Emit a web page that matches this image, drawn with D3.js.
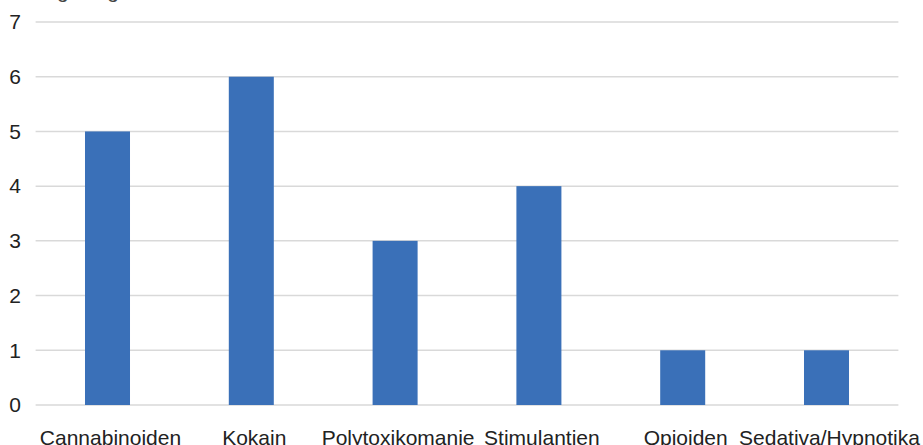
<!DOCTYPE html>
<html>
<head>
<meta charset="utf-8">
<script src="https://cdn.jsdelivr.net/npm/d3@7"></script>
<style>
  html, body { margin: 0; padding: 0; background: #fff; overflow: hidden; }
  svg { display: block; font-family: "Liberation Sans", Arial, sans-serif; }
</style>
</head>
<body>
<svg id="chart" width="923" height="445"></svg>
<script>
const categories = ["Cannabinoiden", "Kokain", "Polytoxikomanie", "Stimulantien", "Opioiden", "Sedativa/Hypnotika"];
const counts = [5, 6, 3, 4, 1, 1];
const yTicks = [0, 1, 2, 3, 4, 5, 6, 7];
const yTitle = "Häufigkeit gesamt";

const svg = d3.select("#chart");
const plotLeft = 35.6, plotRight = 898.4, plotTop = 22, plotBottom = 405;

const x = d3.scaleBand().domain(categories).range([plotLeft, plotRight]).paddingInner(0.687).paddingOuter(0.3435);
const y = d3.scaleLinear().domain([0, 7]).range([plotBottom, plotTop]);

// horizontal gridlines
svg.append("g").selectAll("line").data(yTicks).join("line")
  .attr("x1", plotLeft).attr("x2", plotRight)
  .attr("y1", d => y(d)).attr("y2", d => y(d))
  .attr("stroke", "#d9d9d9").attr("stroke-width", 1.5);

// y tick labels
svg.append("g").selectAll("text").data(yTicks).join("text")
  .attr("x", 21).attr("y", d => y(d)).attr("dy", "0.35em")
  .attr("text-anchor", "end").attr("font-size", 21).attr("fill", "#222")
  .text(d => d);

// bars
svg.append("g").selectAll("rect").data(categories).join("rect")
  .attr("x", d => x(d)).attr("width", x.bandwidth())
  .attr("y", (d, i) => y(counts[i])).attr("height", (d, i) => y(0) - y(counts[i]))
  .attr("fill", "#3a70b8");

// category labels, centred under each bar
svg.append("g").selectAll("text").data(categories).join("text")
  .attr("x", d => x(d) + x.bandwidth() / 2 + 3).attr("y", 444.5)
  .attr("text-anchor", "middle").attr("font-size", 21).attr("fill", "#222")
  .text(d => d);

// axis title, partly above the visible area
svg.append("text").attr("x", 8).attr("y", -2.5).attr("font-size", 21).attr("fill", "#444").text(yTitle);
</script>
</body>
</html>
